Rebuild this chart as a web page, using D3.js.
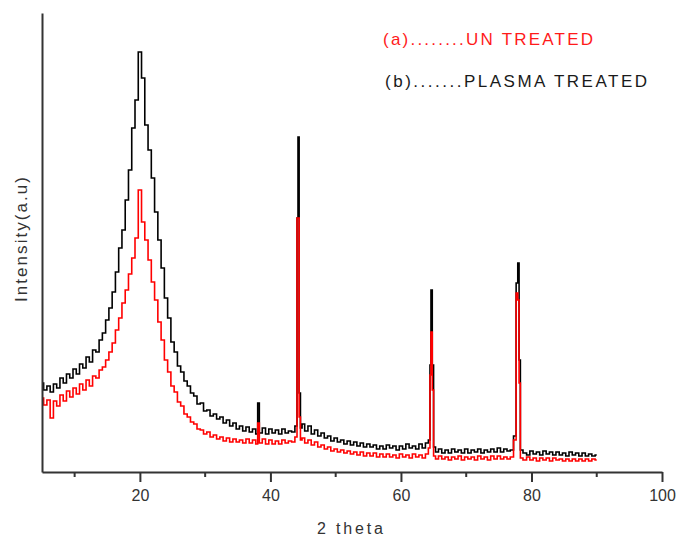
<!DOCTYPE html>
<html>
<head>
<meta charset="utf-8">
<script src="https://cdn.jsdelivr.net/npm/d3@7"></script>
<style>
  body { margin: 0; background: #fff; }
  svg { display: block; }
</style>
</head>
<body>
<script>
// 2 theta positions of the scan (degrees)
var twoTheta = [
  5, 5.5, 6, 6.5, 7, 7.5, 8, 8.5, 9, 9.5, 10, 10.5, 11, 11.5, 12, 12.5, 13, 13.5, 14, 14.5,
  15, 15.5, 16, 16.5, 17, 17.5, 18, 18.5, 19, 19.5, 20, 20.5, 21, 21.5, 22, 22.5, 23, 23.5, 24, 24.5,
  25, 25.5, 26, 26.5, 27, 27.5, 28, 28.5, 29, 29.5, 30, 30.5, 31, 31.5, 32, 32.5, 33, 33.5, 34, 34.5,
  35, 35.5, 36, 36.5, 37, 37.5, 38, 38.1, 38.5, 39, 39.5, 40, 40.5, 41, 41.5, 42, 42.5, 43, 43.5, 44,
  44.15, 44.3, 44.5, 44.7, 45, 45.5, 46, 46.5, 47, 47.5, 48, 48.5, 49, 49.5, 50, 50.5, 51, 51.5, 52, 52.5,
  53, 53.5, 54, 54.5, 55, 55.5, 56, 56.5, 57, 57.5, 58, 58.5, 59, 59.5, 60, 60.5, 61, 61.5, 62, 62.5,
  63, 63.5, 64, 64.4, 64.5, 64.7, 64.9, 65.1, 65.5, 66, 66.5, 67, 67.5, 68, 68.5, 69, 69.5, 70, 70.5, 71,
  71.5, 72, 72.5, 73, 73.5, 74, 74.5, 75, 75.5, 76, 76.5, 77, 77.5, 77.8, 78, 78.2, 78.4, 79, 79.5, 80,
  80.5, 81, 81.5, 82, 82.5, 83, 83.5, 84, 84.5, 85, 85.5, 86, 86.5, 87, 87.5, 88, 88.5, 89, 89.5, 90
];

// (b) plasma treated, intensity (a.u.)
var plasmaTreated = [
  89, 82, 86, 80, 88, 84, 94, 89, 98, 94, 103, 98, 108, 104, 115, 110, 122, 120, 132, 139,
  152, 164, 180, 200, 224, 242, 272, 302, 344, 372, 420, 394, 347, 322, 294, 260, 232, 204, 174, 154,
  130, 120, 106, 100, 91, 86, 79, 76, 68, 69, 61, 62, 56, 58, 53, 55, 49, 52, 46, 49,
  43, 46, 41, 45, 40, 43, 38, 69, 39, 44, 38, 43, 39, 42, 38, 43, 39, 41, 40, 46,
  254, 335, 79, 44, 48, 41, 46, 38, 42, 36, 39, 34, 36, 31, 34, 30, 32, 28, 31, 27,
  30, 26, 29, 25, 28, 25, 27, 23, 26, 23, 27, 24, 26, 22, 26, 23, 28, 24, 26, 23,
  28, 24, 29, 32, 107, 182, 107, 25, 20, 23, 19, 22, 19, 23, 20, 22, 19, 23, 19, 22,
  20, 23, 19, 22, 20, 23, 20, 24, 20, 23, 21, 22, 36, 189, 209, 112, 22, 19, 17, 21,
  18, 20, 17, 21, 18, 20, 17, 20, 17, 19, 16, 20, 17, 19, 16, 19, 16, 18, 16, 17
];

// (a) untreated, intensity (a.u.)
var unTreated = [
  74, 67, 72, 54, 71, 66, 77, 71, 81, 75, 84, 78, 88, 82, 92, 86, 96, 94, 102, 105,
  112, 120, 129, 142, 154, 169, 182, 198, 214, 234, 282, 250, 232, 212, 190, 172, 150, 132, 112, 100,
  86, 80, 70, 66, 58, 55, 50, 48, 43, 42, 38, 40, 35, 37, 33, 35, 31, 34, 30, 33,
  30, 32, 29, 33, 29, 32, 28, 49, 29, 33, 28, 32, 28, 31, 28, 32, 29, 31, 30, 35,
  254, 254, 55, 32, 34, 29, 32, 27, 30, 25, 27, 23, 25, 21, 23, 20, 22, 19, 21, 18,
  20, 17, 20, 16, 19, 16, 19, 15, 18, 15, 18, 15, 17, 14, 18, 15, 17, 14, 18, 15,
  17, 14, 18, 24, 97, 140, 82, 16, 13, 16, 13, 15, 12, 15, 13, 16, 12, 15, 13, 15,
  12, 16, 13, 15, 12, 16, 13, 16, 13, 15, 13, 15, 32, 179, 172, 89, 14, 12, 15, 12,
  14, 11, 14, 12, 14, 11, 14, 12, 13, 11, 13, 11, 13, 11, 13, 11, 13, 11, 13, 12
];

var majorTicks = [20, 40, 60, 80, 100];
var minorTicks = [10, 30, 50, 70, 90];

var legendA = "(a)........UN TREATED";
var legendB = "(b).......PLASMA TREATED";

//Width and height
var w = 677;
var h = 536;

var svg = d3.select("body")
            .append("svg")
            .attr("width", w)
            .attr("height", h);

//Scales
var x = d3.scaleLinear()
          .domain([5, 100])
          .range([42, 662]);

var y = d3.scaleLinear()
          .domain([0, 459])
          .range([472, 13]);

var line = d3.line()
             .x((d) => x(d[0]))
             .y((d) => y(d[1]))
             .curve(d3.curveStep);

//Curves: black first, red on top
svg.append("path")
   .datum(d3.zip(twoTheta, plasmaTreated))
   .attr("d", line)
   .attr("fill", "none")
   .attr("stroke", "#000")
   .attr("stroke-width", 1.6);

svg.append("path")
   .datum(d3.zip(twoTheta, unTreated))
   .attr("d", line)
   .attr("fill", "none")
   .attr("stroke", "#ff0000")
   .attr("stroke-width", 1.6);

//Bottom axis with major and minor ticks
var xAxis = d3.axisBottom(x)
              .tickValues(majorTicks)
              .tickSize(10)
              .tickSizeOuter(0)
              .tickPadding(8);

var gx = svg.append("g")
            .attr("transform", "translate(0," + y(0) + ")")
            .call(xAxis);

gx.select(".domain").attr("stroke", "#333").attr("stroke-width", 2);
gx.selectAll(".tick line").attr("stroke", "#333").attr("stroke-width", 2);
gx.selectAll(".tick text")
  .attr("font-family", "Liberation Sans, Arial, sans-serif")
  .attr("font-size", "16px")
  .attr("fill", "#333");

svg.append("g")
   .selectAll("line")
   .data(minorTicks)
   .enter()
   .append("line")
   .attr("x1", (d) => x(d))
   .attr("x2", (d) => x(d))
   .attr("y1", y(0))
   .attr("y2", y(0) + 5)
   .attr("stroke", "#333")
   .attr("stroke-width", 2);

//Left axis, no ticks
var yAxis = d3.axisLeft(y).tickValues([]).tickSizeOuter(0);
var gy = svg.append("g")
            .attr("transform", "translate(" + x(5) + ",0)")
            .call(yAxis);
gy.select(".domain").attr("stroke", "#333").attr("stroke-width", 2);

//Axis titles
svg.append("text")
   .attr("x", 317)
   .attr("y", 534)
   .attr("textLength", 66)
   .attr("lengthAdjust", "spacing")
   .attr("font-family", "Liberation Sans, Arial, sans-serif")
   .attr("font-size", "16px")
   .attr("fill", "#333")
   .text("2 theta");

svg.append("text")
   .attr("transform", "translate(27,302) rotate(-90)")
   .attr("textLength", 125)
   .attr("lengthAdjust", "spacing")
   .attr("font-family", "Liberation Sans, Arial, sans-serif")
   .attr("font-size", "17px")
   .attr("fill", "#333")
   .text("Intensity(a.u)");

//Legend
svg.append("text")
   .attr("x", 383)
   .attr("y", 45)
   .attr("textLength", 210)
   .attr("lengthAdjust", "spacing")
   .attr("font-family", "Liberation Sans, Arial, sans-serif")
   .attr("font-size", "17px")
   .attr("fill", "#ff1a1a")
   .text(legendA);

svg.append("text")
   .attr("x", 385)
   .attr("y", 87)
   .attr("textLength", 262)
   .attr("lengthAdjust", "spacing")
   .attr("font-family", "Liberation Sans, Arial, sans-serif")
   .attr("font-size", "17px")
   .attr("fill", "#1a1a1a")
   .text(legendB);
</script>
</body>
</html>
